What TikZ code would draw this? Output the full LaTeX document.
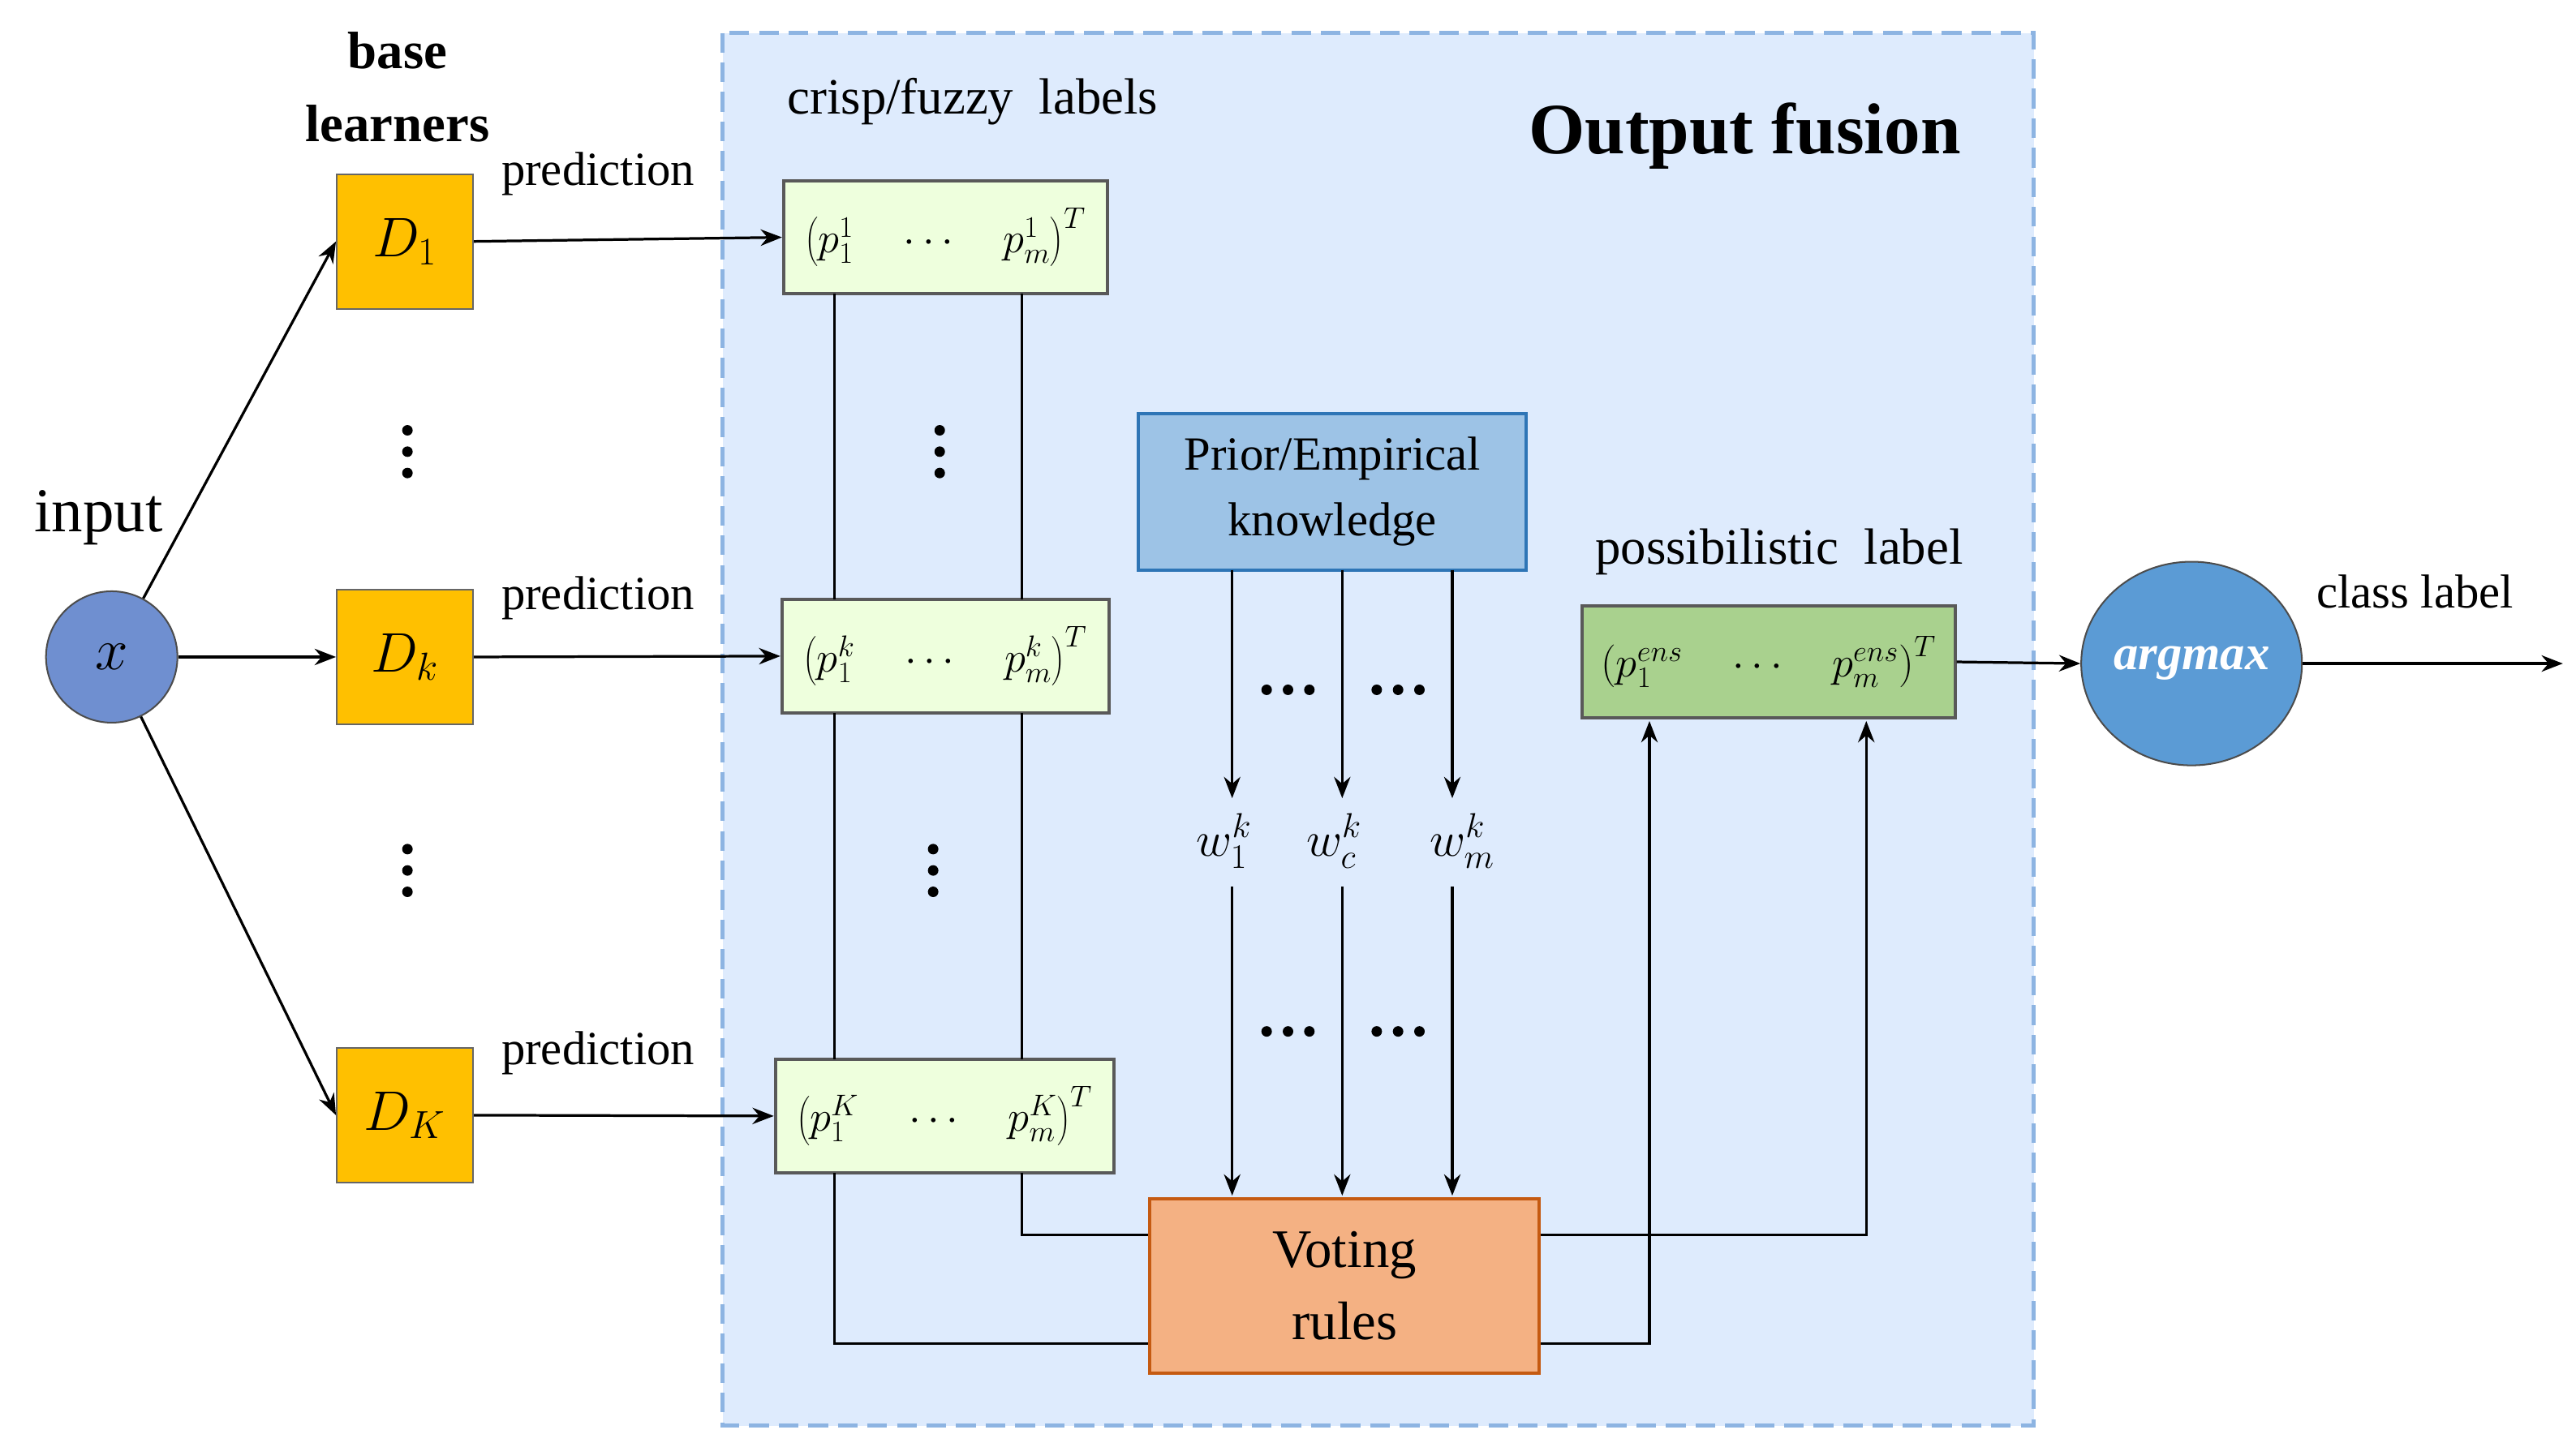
\RequirePackage{fix-cm}
\documentclass[tikz,border=0pt]{standalone}
\usepackage{fontspec}
\setmainfont{Liberation Serif}
\usetikzlibrary{arrows.meta,shapes.geometric}
\definecolor{fusebg}{HTML}{DEEBFD}
\definecolor{fuseb}{HTML}{8DB4E2}
\definecolor{dbox}{HTML}{FFC000}
\definecolor{pbox}{HTML}{EEFFDD}
\definecolor{prior}{HTML}{9DC3E6}
\definecolor{priorb}{HTML}{2E75B6}
\definecolor{vote}{HTML}{F4B183}
\definecolor{voteb}{HTML}{C55A11}
\definecolor{ens}{HTML}{A9D18E}
\definecolor{argm}{HTML}{5B9BD5}
\definecolor{xc}{HTML}{6F8FD0}
\begin{document}
\begin{tikzpicture}[x=1pt,y=-1pt,
  txt/.style={font=\fontsize{29}{31}\selectfont,inner sep=0pt},
  dnode/.style={draw=black!60,line width=1pt,fill=dbox,minimum width=83pt,minimum height=82pt,inner sep=0pt,font=\fontsize{34}{36}\selectfont},
  pnode/.style={draw=black!65,line width=2pt,fill=pbox,minimum height=69pt,inner sep=0pt,font=\fontsize{26}{28}\selectfont},
  arr/.style={line width=1.6pt,-{Stealth[length=13pt,width=10pt]}},
  ln/.style={line width=1.6pt}]
\useasboundingbox (0,0) rectangle (1568,881);
\fill[fusebg] (440,20) rectangle (1238,868);
\draw[fuseb,line width=2.5pt,dash pattern=on 12pt off 6pt] (440,20) rectangle (1238,868);
% left
\node[circle,draw=black!70,line width=1pt,fill=xc,minimum size=80pt,inner sep=0pt,font=\fontsize{36}{36}\selectfont] (x) at (68,400) {$x$};
\node[txt,font=\fontsize{38}{40}\selectfont] (inp) at (60,315) {input};
\node[txt,font=\fontsize{32}{44}\selectfont\bfseries,align=center] (bl) at (242,53) {base\\learners};
\node[dnode] (d1) at (246.5,147) {$D_1$};
\node[dnode] (dk) at (246.5,400) {$D_k$};
\node[dnode] (dK) at (246.5,679) {$D_K$};
\foreach \cx/\cy in {248/275,248/530,572/275,568/530}
  \foreach \dy in {-13,0,13} \fill (\cx,\cy+\dy) circle (3.2pt);
\node[txt] (pr1) at (364,106) {prediction};
\node[txt] (pr2) at (364,364) {prediction};
\node[txt] (pr3) at (364,641) {prediction};
% p boxes
\node[pnode,minimum width=197pt] (b1) at (575.5,144.5) {$\left(p_1^1\quad\cdots\quad p_m^1\right)^T$};
\node[pnode,minimum width=199pt] (bk) at (575.5,399.5) {$\left(p_1^k\quad\cdots\quad p_m^k\right)^T$};
\node[pnode,minimum width=206pt] (bK) at (575,679.5) {$\left(p_1^K\quad\cdots\quad p_m^K\right)^T$};
\node[txt,font=\fontsize{31}{33}\selectfont] (crisp) at (592,62) {crisp/fuzzy\ \ labels};
\node[txt,font=\fontsize{44}{46}\selectfont\bfseries] (of) at (1062,83) {Output fusion};
\draw[arr] (x) -- (d1.west);
\draw[arr] (x) -- (dk.west);
\draw[arr] (x) -- (dK.west);
\draw[arr] (d1.east) -- (b1.west);
\draw[arr] (dk.east) -- (bk.west);
\draw[arr] (dK.east) -- (bK.west);
\draw[ln] (508,179) -- (508,365) (622,179) -- (622,365);
\draw[ln] (508,434) -- (508,645) (622,434) -- (622,645);
% prior
\node[draw=priorb,line width=2pt,fill=prior,minimum width=236pt,minimum height=95pt,inner sep=0pt,align=center,font=\fontsize{29}{40}\selectfont] (pk) at (811,299.5) {Prior/Empirical\\knowledge};
\node[draw=voteb,line width=2pt,fill=vote,minimum width=237pt,minimum height=106pt,inner sep=0pt,align=center,font=\fontsize{33}{44}\selectfont] (vr) at (818.5,783) {Voting\\rules};
\node[txt,font=\fontsize{30}{30}\selectfont] (w1) at (745,512) {$w_1^k$};
\node[txt,font=\fontsize{30}{30}\selectfont] (wc) at (812,512) {$w_c^k$};
\node[txt,font=\fontsize{30}{30}\selectfont] (wm) at (890,512) {$w_m^k$};
\draw[arr] (750,347) -- (750,486);
\draw[arr] (817,347) -- (817,486);
\draw[arr] (884,347) -- (884,486);
\draw[arr] (750,540) -- (750,728);
\draw[arr] (817,540) -- (817,728);
\draw[arr] (884,540) -- (884,728);
\foreach \cx/\cy in {784/420,851/420,784/628,851/628}
  \foreach \dx in {-13,0,13} \fill (\cx+\dx,\cy) circle (3.2pt);
\draw[ln] (622,714) |- (vr.west |- 0,752);
\draw[ln] (508,714) |- (vr.west |- 0,818);
% ens
\node[draw=black!65,line width=2pt,fill=ens,minimum width=227pt,minimum height=68pt,inner sep=0pt,font=\fontsize{26}{28}\selectfont] (en) at (1076.5,403) {$\left(p_1^{ens}\quad\cdots\quad p_m^{ens}\right)^T$};
\node[txt,font=\fontsize{31}{33}\selectfont] (pl) at (1083,336) {possibilistic\ \ label};
\draw[arr] (vr.east |- 0,752) -| (1136,439);
\draw[arr] (vr.east |- 0,818) -| (1004,439);
\node[ellipse,draw=black!70,line width=1pt,fill=argm,minimum width=128pt,minimum height=124pt,inner sep=0pt,text=white,font=\fontsize{30}{30}\selectfont\bfseries\itshape] (am) at (1334,404) {argmax};
\draw[arr] (en.east) -- (am.west);
\coordinate (out) at (1560,404);
\draw[arr] (am.east) -- (out);
\node[txt] (cl) at (1470,360) {class label};
\end{tikzpicture}
\end{document}
